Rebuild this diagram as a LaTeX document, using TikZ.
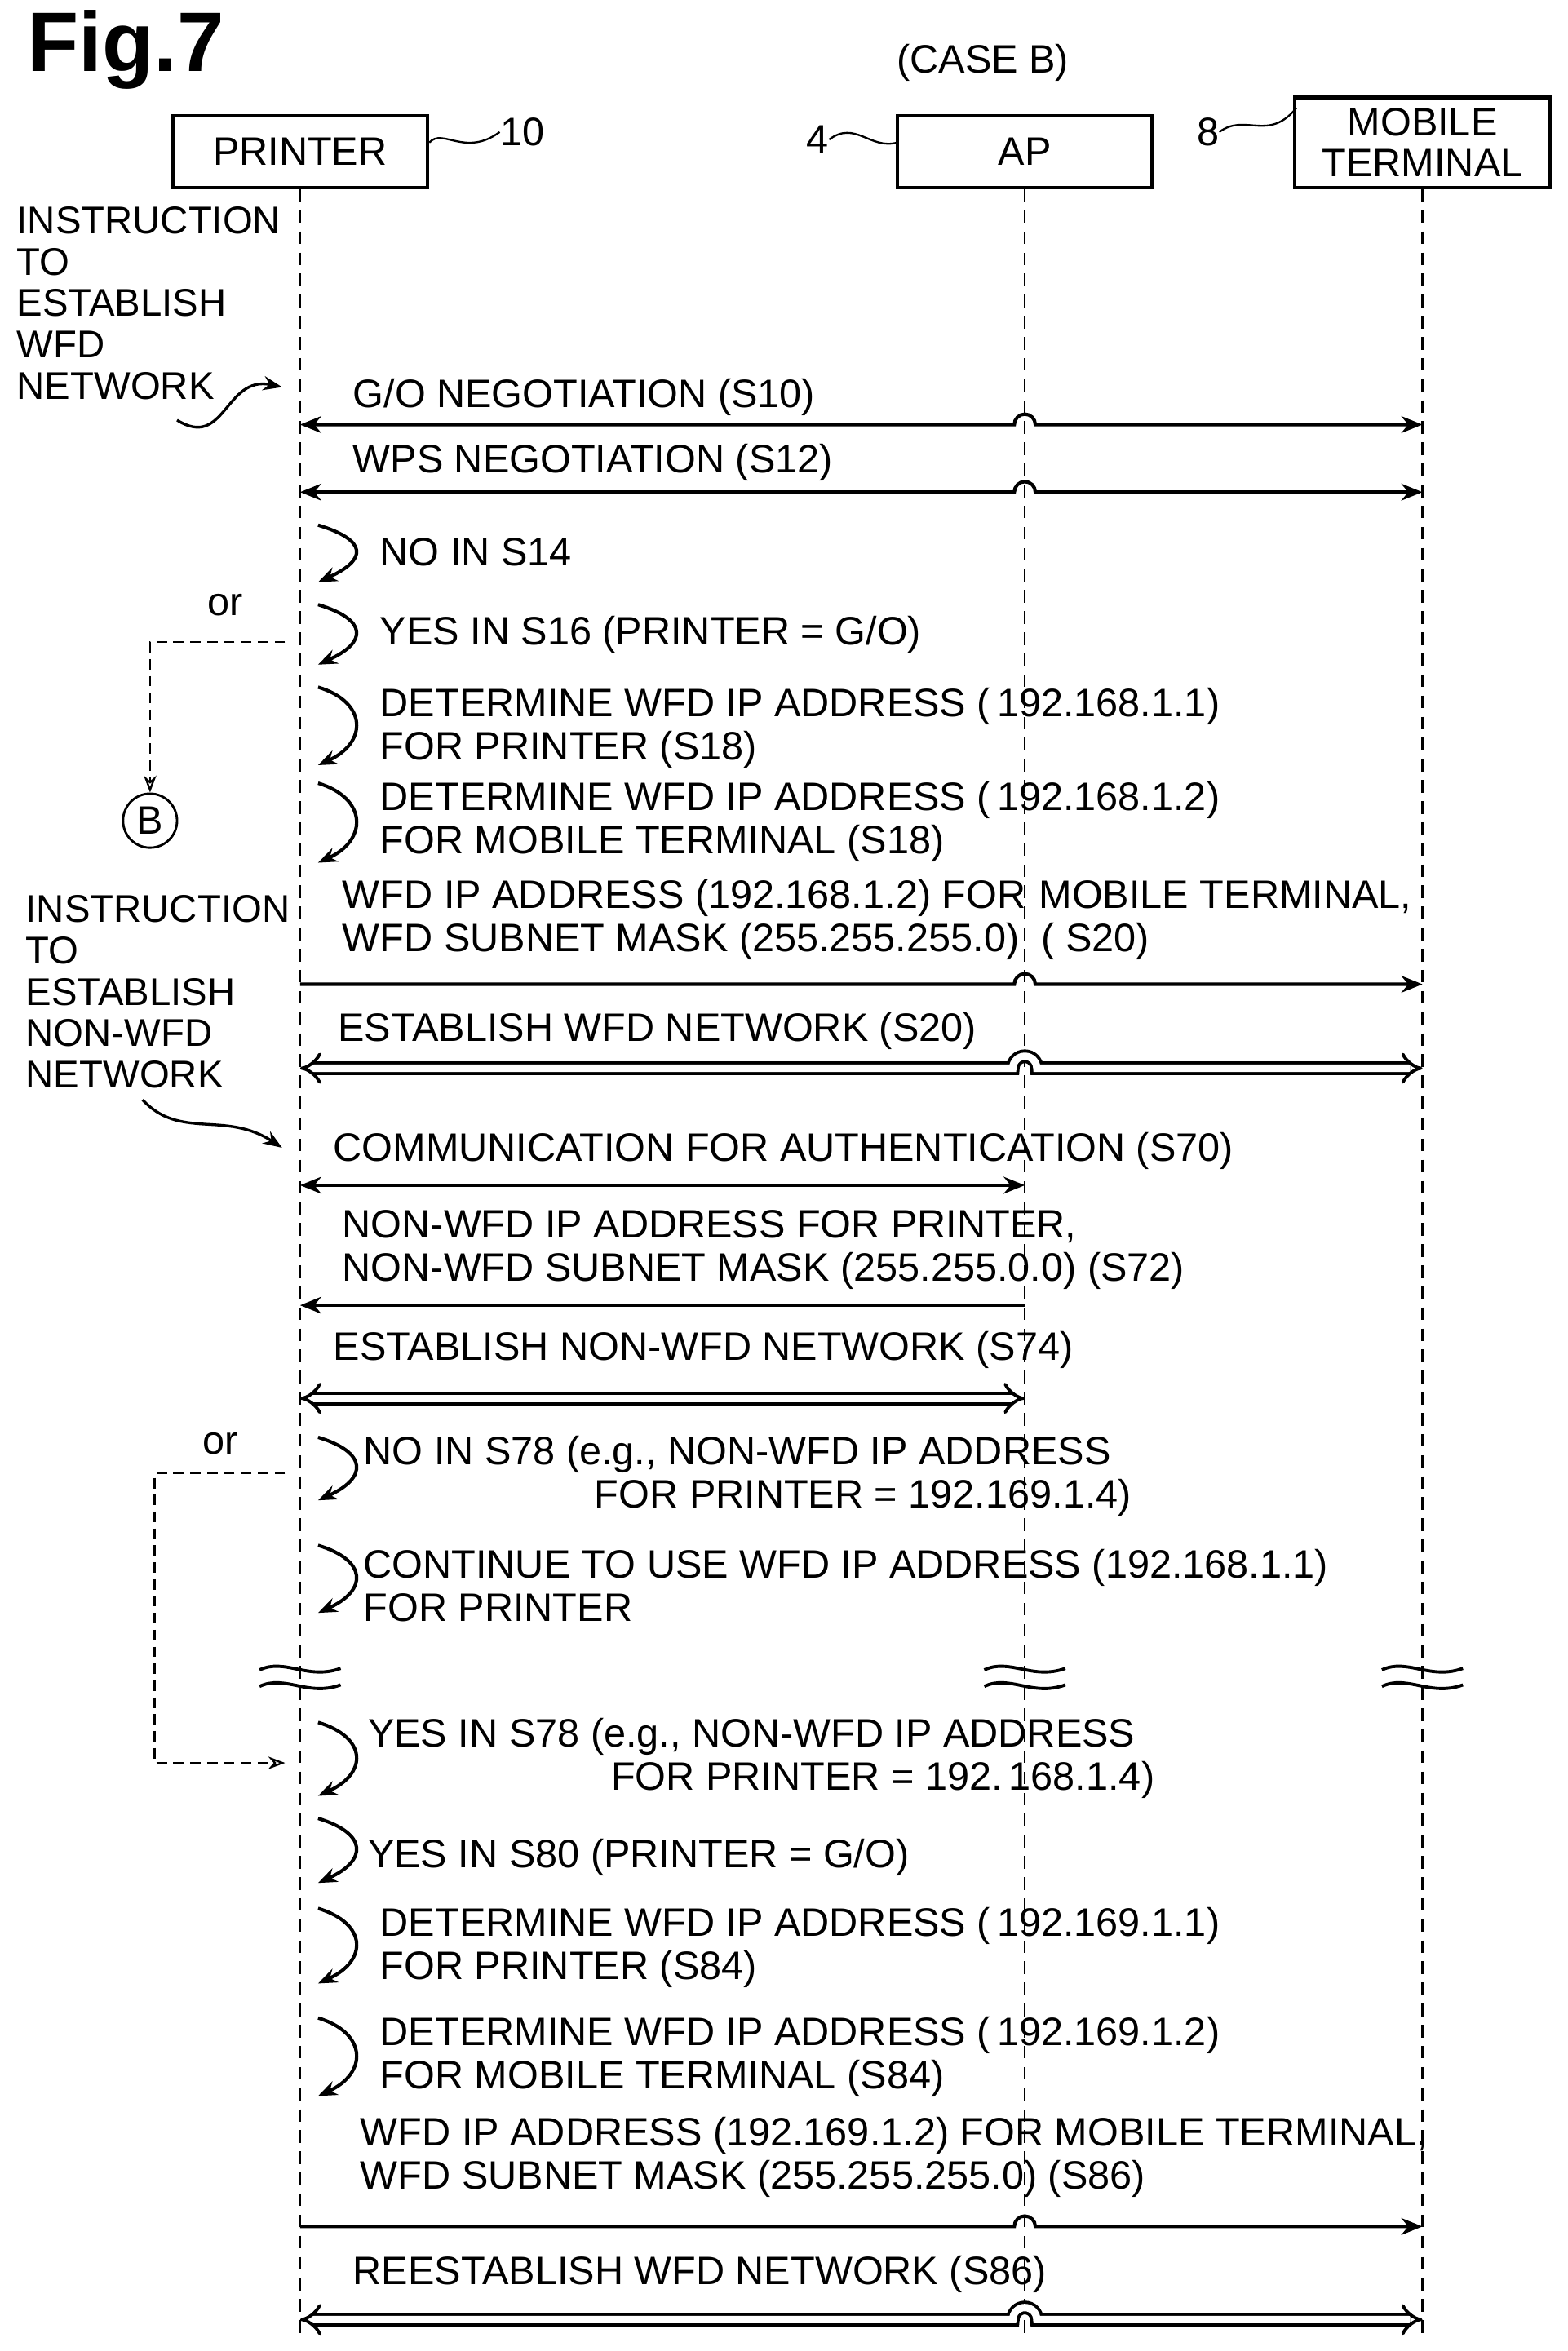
\documentclass[tikz,border=0pt]{standalone}
\usepackage{fontspec}
\setmainfont{Liberation Sans}
\usetikzlibrary{arrows.meta}
\begin{document}
\begin{tikzpicture}[x=0.025cm,y=-0.025cm,
  every node/.style={font=\fontsize{18.8}{20.5}\selectfont, inner sep=0pt},
  t/.style={anchor=west, align=left},
  ln/.style={line width=1.6pt},
  life/.style={line width=0.9pt, dash pattern=on 6pt off 4pt},
  dl/.style={line width=0.9pt, dash pattern=on 5pt off 3pt},
  box/.style={draw, line width=1.6pt, minimum height=1.2cm, inner sep=2pt},
  ah/.style={-{Stealth[length=10pt,width=8pt]}},
  bh/.style={{Stealth[length=10pt,width=8pt]}-{Stealth[length=10pt,width=8pt]}},
  dbl/.style={double, double distance=3.5pt, line width=1.5pt, {Implies[length=9pt]}-{Implies[length=9pt]}},
  self/.style={line width=1.6pt, -{Stealth[length=9pt,width=7pt]}}]
\useasboundingbox (0,0) rectangle (1045,1567);
\node[anchor=west, font=\fontsize{40}{44}\selectfont\bfseries] (fig) at (18,33) {Fig.7};
\node (case) at (655,42) {(CASE B)};
\node[box, minimum width=4.25cm] (pr) at (200,101) {PRINTER};
\node[box, minimum width=4.25cm] (ap) at (683,101) {AP};
\node[box, minimum width=4.25cm, align=center, minimum height=1.5cm, font=\fontsize{18.8}{19.5}\selectfont] (mt) at (948,95) {MOBILE\\TERMINAL};
\node (n10) at (348,88) {10};
\node (n4) at (545,93) {4};
\node (n8) at (805,88) {8};
\draw[line width=0.9pt] (pr.east) ++(0,-6) .. controls (295,85) and (310,105) .. (n10.west);
\draw[line width=0.9pt] (n4.east) .. controls (570,80) and (580,100) .. (598,95);
\draw[line width=0.9pt] (n8.east) .. controls (830,75) and (845,95) .. (864,72);
\coordinate (pb) at (200,1560); \coordinate (ab) at (683,1560); \coordinate (mb) at (948,1560);
\draw[life] (pr.south) -- (pb);
\draw[life] (ap.south) -- (ab);
\draw[life] (mt.south) -- (mb);
\node[t, font=\fontsize{18.3}{19.6}\selectfont] (ins1) at (11,202) {INSTRUCTION\\TO\\ESTABLISH\\WFD\\NETWORK};
\draw[line width=1.3pt, -{Stealth[length=9pt]}] (118,280) .. controls (150,300) and (150,250) .. (188,258);
\node[t] (s10) at (235,265) {G/O NEGOTIATION (S10)};
\draw[ln,bh] (200,283) -- (676,283) arc (180:360:7) -- (948,283);
\node[t] (s12) at (235,308) {WPS NEGOTIATION (S12)};
\draw[ln,bh] (200,328) -- (676,328) arc (180:360:7) -- (948,328);
\foreach \ya/\yb in {350/388, 403/443, 458/510, 522/575, 958/1000, 1030/1075, 1148/1197, 1212/1255, 1272/1322, 1345/1397}{
  \draw[self] (212,\ya) .. controls (245,\ya+10) and (245,\yb-15) .. (212,\yb);
}
\node[t] (s14) at (253,368) {NO IN S14};
\node (or1) at (150,403) {or};
\node[t] (s16) at (253,423) {YES IN S16 (PRINTER = G/O)};
\node[draw, circle, line width=1.1pt, minimum size=0.9cm] (B) at (100,547) {B};
\draw[dl, -{Stealth[open,length=8pt]}] (190,428) -- (100,428) -- (B.north);
\node[t] (s18a) at (253,485) {DETERMINE WFD IP ADDRESS (\,192.168.1.1)\\FOR PRINTER (S18)};
\node[t] (s18b) at (253,548) {DETERMINE WFD IP ADDRESS (\,192.168.1.2)\\FOR MOBILE TERMINAL (S18)};
\node[t] (s20a) at (228,613) {WFD IP ADDRESS (192.168.1.2) FOR\,\,MOBILE TERMINAL,\\WFD SUBNET MASK (255.255.255.0)\ \ ( S20)};
\draw[ln,ah] (200,656) -- (676,656) arc (180:360:7) -- (948,656);
\node[t] (s20b) at (225,687) {ESTABLISH WFD NETWORK (S20)};
\draw[dbl] (200,712) -- (675,712) arc (180:360:8) -- (948,712);
\node[t, font=\fontsize{18.3}{19.6}\selectfont] (ins2) at (17,661) {INSTRUCTION\\TO\\ESTABLISH\\NON-WFD\\NETWORK};
\draw[line width=1.3pt, -{Stealth[length=9pt]}] (95,733) .. controls (120,760) and (150,740) .. (188,765);
\node[t] (s70) at (222,767) {COMMUNICATION FOR AUTHENTICATION (S70)};
\draw[ln,bh] (200,790) -- (683,790);
\node[t] (s72) at (228,833) {NON-WFD IP ADDRESS FOR PRINTER,\\NON-WFD SUBNET MASK (255.255.0.0) (S72)};
\draw[ln,ah] (683,870) -- (200,870);
\node[t] (s74) at (222,900) {ESTABLISH NON-WFD NETWORK (S74)};
\draw[dbl] (200,932) -- (683,932);
\node (or2) at (147,962) {or};
\draw[dl, -{Stealth[open,length=8pt]}] (190,982) -- (103,982) -- (103,1175) -- (190,1175);
\node[t] (s78a) at (242,984) {NO IN S78 (e.g., NON-WFD IP ADDRESS\\\hspace*{3.85cm}FOR PRINTER = 192.169.1.4)};
\node[t] (cont) at (242,1057) {CONTINUE TO USE WFD IP ADDRESS (192.168.1.1)\\FOR PRINTER};
\foreach \x in {200,683,948}{
  \draw[line width=1.5pt] (\x-27,1113) .. controls (\x-10,1105) and (\x+5,1120) .. (\x+27,1112);
  \draw[line width=1.5pt] (\x-27,1124) .. controls (\x-10,1116) and (\x+5,1131) .. (\x+27,1123);
}
\node[t] (s78b) at (245,1172) {YES IN S78 (e.g., NON-WFD IP ADDRESS\\\hspace*{4.05cm}FOR PRINTER = 192.\,168.1.4)};
\node[t] (s80) at (245,1238) {YES IN S80 (PRINTER = G/O)};
\node[t] (s84a) at (253,1298) {DETERMINE WFD IP ADDRESS (\,192.169.1.1)\\FOR PRINTER (S84)};
\node[t] (s84b) at (253,1371) {DETERMINE WFD IP ADDRESS (\,192.169.1.2)\\FOR MOBILE TERMINAL (S84)};
\node[t] (s86a) at (240,1438) {WFD IP ADDRESS (192.169.1.2) FOR MOBILE TERMINAL,\\WFD SUBNET MASK (255.255.255.0) (S86)};
\draw[ln,ah] (200,1484) -- (676,1484) arc (180:360:7) -- (948,1484);
\node[t] (s86b) at (235,1516) {REESTABLISH WFD NETWORK (S86)};
\draw[dbl] (200,1546) -- (675,1546) arc (180:360:8) -- (948,1546);
\end{tikzpicture}
\end{document}
